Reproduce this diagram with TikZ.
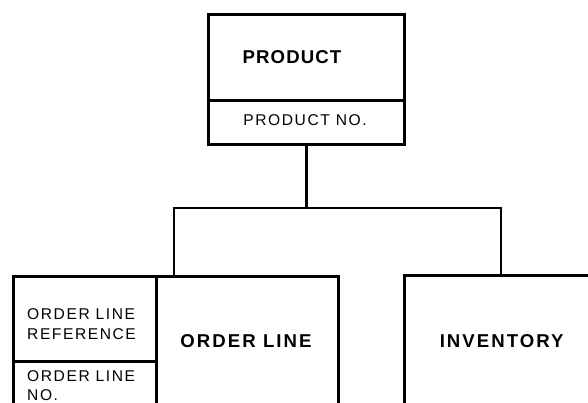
\documentclass[tikz,border=0pt]{standalone}
\usepackage{fontspec}
\setmainfont{Liberation Sans}
\newfontfamily\keyfont[LetterSpace=10]{Liberation Sans}
\newfontfamily\titlefont{Liberation Sans Bold}
\begin{document}
\begin{tikzpicture}[x=1pt,y=-1pt,
  frame/.style={draw=black,line width=2.6pt,rectangle,inner sep=0pt,anchor=north west},
  title/.style={font=\titlefont\fontsize{18.6}{22}\selectfont,inner sep=0pt,anchor=base},
  keytext/.style={font=\keyfont\fontsize{15.6}{19.4}\selectfont,inner sep=0pt},
  link/.style={draw=black,line width=2.6pt,line cap=rect}]
\useasboundingbox (0,0) rectangle (588,402);
\clip (0,0) rectangle (588,402);

% PRODUCT entity with its key field
\node[frame,minimum width=196pt,minimum height=86pt] (product) at (207,13) {};
\node[frame,minimum width=196pt,minimum height=44pt] (pkey) at (207,99) {};
\node[title] (ptitle) at (292,63.3) {\addfontfeature{LetterSpace=6}PRODUCT};
\node[keytext,anchor=base] (pkeytext) at (305,125.7) {PRODUCT NO.};

% ORDER LINE entity: key fields on the left, name on the right
\node[frame,minimum width=143pt,minimum height=85pt] (olref) at (12,275) {};
\node[frame,minimum width=143pt,minimum height=70pt] (olno) at (12,360) {};
\node[frame,minimum width=182pt,minimum height=155pt] (orderline) at (155,275) {};
\node[keytext,align=left,anchor=base west] (olreftext) at (27,339) {ORDER LINE\\REFERENCE};
\node[keytext,align=left,anchor=base west] (olnotext) at (27,400.7) {ORDER LINE\\NO.};
\node[title] (oltitle) at (246,347.3) {\addfontfeature{LetterSpace=11}ORDER LINE};

% INVENTORY entity
\node[frame,minimum width=200pt,minimum height=155pt] (inventory) at (403,274) {};
\node[title] (invtitle) at (501.7,347.3) {\addfontfeature{LetterSpace=11}INVENTORY};

% one-to-many tree from PRODUCT
\coordinate (busL) at (174,208);
\coordinate (busR) at (501,208);
\draw[link] (pkey.south) -- (pkey.south |- busL);
\draw[link] (olref.north -| busL) -- (busL) -- (busR) -- (inventory.north -| busR);
\end{tikzpicture}
\end{document}
